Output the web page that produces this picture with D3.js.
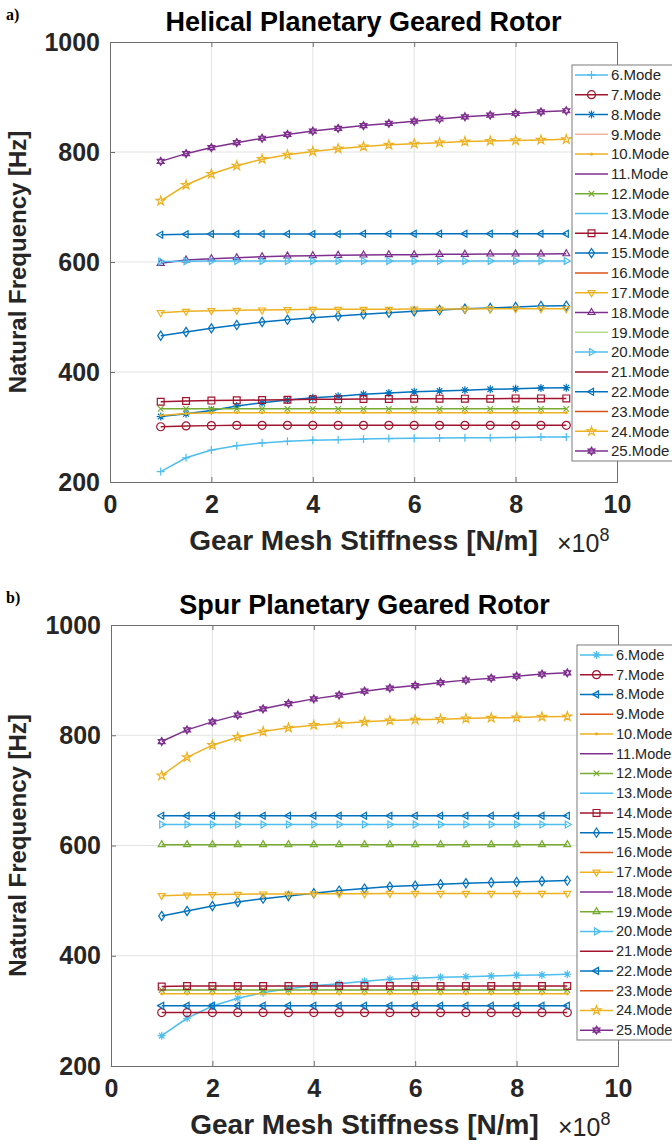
<!DOCTYPE html>
<html lang='en'>
  <head>
    <meta charset='utf-8'>
    <title>Planetary Geared Rotor Natural Frequencies</title>
    <script src='https://d3js.org/d3.v7.min.js'></script>
    <style>
      html, body { margin: 0; padding: 0; background: #fff; }
      svg { display: block; font-family: 'Liberation Sans', Arial, sans-serif; }
    </style>
  </head>
  <body>
    <div class='vis'></div>
    <script>
      // gear mesh stiffness, x 1e8 N/m
      const stiffness = [1, 1.5, 2, 2.5, 3, 3.5, 4, 4.5, 5, 5.5, 6, 6.5, 7, 7.5, 8, 8.5, 9];
      const modeNames = ['6.Mode', '7.Mode', '8.Mode', '9.Mode', '10.Mode', '11.Mode', '12.Mode', '13.Mode',
        '14.Mode', '15.Mode', '16.Mode', '17.Mode', '18.Mode', '19.Mode', '20.Mode', '21.Mode',
        '22.Mode', '23.Mode', '24.Mode', '25.Mode'];
      const xTicks = [0, 2, 4, 6, 8, 10];
      const yTicks = [200, 400, 600, 800, 1000];

      // helical planetary geared rotor (Hz)
      const helical6 = [219, 244, 258, 266, 271, 274, 276, 277, 278, 279, 279.5, 280, 280.5, 280.5, 281, 282, 282];
      const helical7 = [300.5, 302, 302.5, 303, 303, 303, 303, 303, 303, 303, 303, 303, 303, 303, 303, 303, 303];
      const helical8 = [319, 324, 330, 338, 344, 349, 353, 356, 359.5, 362, 364, 365.5, 367, 368.5, 369.5, 371, 371.5];
      const helical10 = [321, 324.5, 326, 326, 326, 326, 326, 326, 326, 326, 326, 326, 326, 326, 326, 326, 326];
      const helical12 = [333, 333, 333, 333, 333, 333, 333, 333, 333, 333, 333, 333, 333, 333, 333, 333, 333];
      const helical14 = [346, 347.3, 348, 348.5, 349, 349.6, 350.3, 350.3, 351, 351, 351.5, 351.5, 351.5, 351.5, 352, 352, 352];
      const helical15 = [466, 472.7, 479.4, 485.5, 491, 495, 498.7, 501.8, 504.9, 507.8, 510.4, 512.7, 515.1, 516.4, 518.2, 520, 520.5];
      const helical17 = [507.8, 510.4, 511.5, 512.2, 512.7, 513.3, 514, 514, 514, 514, 514.5, 514.5, 514.5, 515, 515, 515, 515];
      const helical18 = [597.6, 603.6, 606, 607.8, 609.6, 610.9, 611.5, 612.2, 612.7, 613.3, 613.3, 614, 614, 614.5, 614.5, 614.5, 615];
      const helical20 = [601, 601.5, 602, 602, 602, 602, 602, 602, 602, 602, 602, 602, 602, 602, 602, 602, 602];
      const helical22 = [649.5, 650.5, 651, 651, 651, 651, 651, 651, 651.5, 651.5, 651.5, 651.5, 651.5, 651.5, 651.5, 651.5, 651.5];
      const helical24 = [711, 740, 760, 775, 787, 795, 801, 806, 810, 813, 815, 817, 819, 820, 821, 822, 823];
      const helical25 = [783, 797, 808, 817, 825, 832, 838, 843, 848, 852, 856, 860, 864, 867, 870, 873, 875];

      // spur planetary geared rotor (Hz)
      const spur6 = [255, 286.6, 308.9, 322.9, 333.1, 340.3, 345.7, 349.4, 353.7, 357.3, 359.2, 361, 362.1, 363.4, 364.6, 365.2, 366.4];
      const spur7 = [297, 297, 297, 297, 297, 297, 297, 297, 297, 297, 297, 297, 297, 297, 297, 297, 297];
      const spur8 = [654, 654, 654, 654, 654, 654, 654, 654, 654, 654, 654, 654, 654, 654, 654, 654, 654];
      const spur10 = [331, 331, 331, 331, 331, 331, 331, 331, 331, 331, 331, 331, 331, 331, 331, 331, 331];
      const spur12 = [338, 338, 338, 338, 338, 338, 338, 338, 338, 338, 338, 338, 338, 338, 338, 338, 338];
      const spur14 = [344, 345, 345, 345, 345, 345, 345, 345, 345, 345, 345, 345, 345, 345, 345, 345, 345];
      const spur15 = [472.2, 481.3, 490.3, 497.6, 503.6, 508.5, 513.4, 518.2, 521.8, 525.4, 527.3, 529.8, 531.6, 532.8, 534, 535.2, 536.3];
      const spur17 = [509, 510, 511, 511.5, 512, 512, 512.5, 512.5, 512.5, 513, 513, 513, 513, 513, 513, 513, 513];
      const spur19 = [601.5, 601.5, 601.5, 601.5, 601.5, 601.5, 601.5, 601.5, 601.5, 601.5, 601.5, 601.5, 601.5, 601.5, 601.5, 601.5, 601.5];
      const spur20 = [638, 638, 638, 638, 638, 638, 638, 638, 638, 638, 638, 638, 638, 638, 638, 638, 638];
      const spur22 = [309.5, 309.5, 309.5, 309.5, 309.5, 309.5, 309.5, 309.5, 309.5, 309.5, 309.5, 309.5, 309.5, 309.5, 309.5, 309.5, 309.5];
      const spur24 = [727, 760, 782, 796.5, 806.7, 813.4, 818.3, 821.2, 824.3, 826.7, 828, 829.2, 830.3, 831.6, 832.1, 833.4, 834];
      const spur25 = [788.6, 809.8, 824.3, 836.5, 847.9, 857.5, 866, 872.7, 880, 885.5, 890.2, 895.6, 900, 903.6, 907.2, 910.9, 913.2];

      // MATLAB-like palette
      const c = {
        blue: '#0072BD', orange: '#D95319', yellow: '#EDB120', purple: '#7E2F8E',
        green: '#77AC30', cyan: '#4DBEEE', red: '#A2142F', salmon: '#F2B49E'
      };

      // one entry per legend row: [data, color, marker]
      const helicalModes = [
        [helical6, c.cyan, 'plus'], [helical7, c.red, 'circle'], [helical8, c.blue, 'asterisk'],
        [null, c.salmon, 'none'], [helical10, c.yellow, 'point'], [null, c.purple, 'none'],
        [helical12, c.green, 'x'], [null, c.cyan, 'none'], [helical14, c.red, 'square'],
        [helical15, c.blue, 'diamond'], [null, c.orange, 'none'], [helical17, c.yellow, 'triDown'],
        [helical18, c.purple, 'triUp'], [null, '#b5d98a', 'none'], [helical20, c.cyan, 'triRight'],
        [null, c.red, 'none'], [helical22, c.blue, 'triLeft'], [null, c.orange, 'none'],
        [helical24, c.yellow, 'pentagram'], [helical25, c.purple, 'hexagram']
      ];
      const spurModes = [
        [spur6, c.cyan, 'asterisk'], [spur7, c.red, 'circle'], [spur8, c.blue, 'triLeft'],
        [null, c.orange, 'none'], [spur10, c.yellow, 'point'], [null, c.purple, 'none'],
        [spur12, c.green, 'x'], [null, c.cyan, 'none'], [spur14, c.red, 'square'],
        [spur15, c.blue, 'diamond'], [null, c.orange, 'none'], [spur17, c.yellow, 'triDown'],
        [null, c.purple, 'none'], [spur19, c.green, 'triUp'], [spur20, c.cyan, 'triRight'],
        [null, c.red, 'none'], [spur22, c.blue, 'triLeft'], [null, c.orange, 'none'],
        [spur24, c.yellow, 'pentagram'], [spur25, c.purple, 'hexagram']
      ];

      const W = 672, H = 1144;
      const ink = '#262626';

      const svg = d3.select('.vis').append('svg')
        .attr('width', W)
        .attr('height', H);

      // marker path around 0,0
      function markerPath(type, r) {
        const tri = (angle) => {
          const pts = [0, 1, 2].map((k) => {
            const a = angle + k * 2 * Math.PI / 3;
            return [r * Math.cos(a), r * Math.sin(a)];
          });
          return 'M' + pts.map((p) => p.join(',')).join('L') + 'Z';
        };
        switch (type) {
          case 'plus': return `M${-r},0L${r},0M0,${-r}L0,${r}`;
          case 'x': return `M${-r*0.7},${-r*0.7}L${r*0.7},${r*0.7}M${-r*0.7},${r*0.7}L${r*0.7},${-r*0.7}`;
          case 'asterisk': return `M${-r},0L${r},0M0,${-r}L0,${r}M${-r*0.7},${-r*0.7}L${r*0.7},${r*0.7}M${-r*0.7},${r*0.7}L${r*0.7},${-r*0.7}`;
          case 'circle': return d3.symbol(d3.symbolCircle, Math.PI * r * r)();
          case 'point': return d3.symbol(d3.symbolCircle, Math.PI)();
          case 'square': { const s = r * 0.85; return `M${-s},${-s}H${s}V${s}H${-s}Z`; }
          case 'diamond': return `M0,${-r*1.15}L${r*0.75},0L0,${r*1.15}L${-r*0.75},0Z`;
          case 'triUp': return tri(-Math.PI / 2);
          case 'triDown': return tri(Math.PI / 2);
          case 'triLeft': return tri(Math.PI);
          case 'triRight': return tri(0);
          case 'pentagram': return d3.symbol(d3.symbolStar, r * r * 1.6)();
          case 'hexagram': return tri(-Math.PI / 2) + tri(Math.PI / 2);
          default: return '';
        }
      }

      function drawPanel(p) {
        const x = d3.scaleLinear().domain([0, 10]).range([p.left, p.right]);
        const y = d3.scaleLinear().domain([200, 1000]).range([p.bottom, p.top]);
        const g = svg.append('g');

        // grid
        g.append('g').selectAll('line.gx')
          .data(xTicks.slice(1, -1)).enter().append('line')
            .attr('x1', (d) => x(d)).attr('x2', (d) => x(d))
            .attr('y1', p.top).attr('y2', p.bottom)
            .attr('stroke', '#e3e3e3').attr('stroke-width', 1);
        g.append('g').selectAll('line.gy')
          .data(yTicks.slice(1, -1)).enter().append('line')
            .attr('x1', p.left).attr('x2', p.right)
            .attr('y1', (d) => y(d)).attr('y2', (d) => y(d))
            .attr('stroke', '#e3e3e3').attr('stroke-width', 1);

        // axes (ticks inside)
        const xAxis = d3.axisBottom(x).tickValues(xTicks).tickSize(-5).tickPadding(13);
        const yAxis = d3.axisLeft(y).tickValues(yTicks).tickSize(-5).tickPadding(10)
          .tickFormat(d3.format('d'));
        const xa = g.append('g').attr('transform', `translate(0,${p.bottom})`).call(xAxis);
        const ya = g.append('g').attr('transform', `translate(${p.left},0)`).call(yAxis);
        g.append('g').attr('transform', `translate(0,${p.top})`)
          .call(d3.axisTop(x).tickValues(xTicks).tickSize(-5).tickFormat(''));
        g.append('g').attr('transform', `translate(${p.right},0)`)
          .call(d3.axisRight(y).tickValues(yTicks).tickSize(-5).tickFormat(''));
        g.selectAll('.domain, .tick line').attr('stroke', '#6e6e6e');
        [xa, ya].forEach((a) => a.selectAll('.tick text')
          .attr('fill', ink).style('font-size', '25px').style('font-weight', 'bold'));
        xa.selectAll('.tick text').attr('dy', '0.71em');

        // series
        const line = d3.line().x((d) => x(d[0])).y((d) => y(d[1]));
        p.modes.forEach(([vals, color, marker]) => {
          if (!vals) return;
          const pts = stiffness.map((s, i) => [s, vals[i]]);
          g.append('path').datum(pts)
            .attr('d', line)
            .attr('fill', 'none')
            .attr('stroke', color)
            .attr('stroke-width', 1.5);
          if (marker !== 'none') {
            g.append('g').selectAll('path')
              .data(pts).enter().append('path')
                .attr('transform', (d) => `translate(${x(d[0])},${y(d[1])})`)
                .attr('d', markerPath(marker, 4))
                .attr('fill', marker === 'point' ? color : 'none')
                .attr('stroke', color)
                .attr('stroke-width', 1.2);
          }
        });

        // titles and labels
        svg.append('text')
          .attr('x', 6).attr('y', p.top - 22)
          .style('font-family', "'Liberation Serif', 'Times New Roman', serif")
          .style('font-weight', 'bold').style('font-size', '16px')
          .text(p.tag);
        svg.append('text')
          .attr('x', (p.left + p.right) / 2).attr('y', p.top - 11)
          .attr('text-anchor', 'middle')
          .attr('fill', 'black')
          .style('font-weight', 'bold').style('font-size', '27px')
          .text(p.title);
        svg.append('text')
          .attr('transform', `translate(26,${(p.top + p.bottom) / 2}) rotate(-90)`)
          .attr('text-anchor', 'middle')
          .attr('fill', ink)
          .style('font-weight', 'bold').style('font-size', '24px')
          .text('Natural Frequency [Hz]');
        svg.append('text')
          .attr('x', (p.left + p.right) / 2).attr('y', p.bottom + 68)
          .attr('text-anchor', 'middle')
          .attr('fill', ink)
          .style('font-weight', 'bold').style('font-size', '28px')
          .text('Gear Mesh Stiffness [N/m]');
        const exp = svg.append('text')
          .attr('x', p.right - 60).attr('y', p.bottom + 70)
          .attr('fill', ink)
          .style('font-size', '25px');
        exp.append('tspan').text('\u00d710');
        exp.append('tspan').attr('dy', -11).style('font-size', '18px').text('8');

        // legend
        const lg = svg.append('g').attr('transform', `translate(${p.legX},${p.legY})`);
        const rowH = p.legH / modeNames.length;
        lg.append('rect')
          .attr('width', 120).attr('height', p.legH)
          .attr('fill', 'white').attr('stroke', '#7a7a7a').attr('stroke-width', 1);
        p.modes.forEach(([vals, color, marker], i) => {
          const cy = rowH * (i + 0.5);
          lg.append('line')
            .attr('x1', 3).attr('x2', 36).attr('y1', cy).attr('y2', cy)
            .attr('stroke', color).attr('stroke-width', 1.5);
          if (marker !== 'none') {
            lg.append('path')
              .attr('transform', `translate(19.5,${cy})`)
              .attr('d', markerPath(marker, 4))
              .attr('fill', marker === 'point' ? color : 'none')
              .attr('stroke', color).attr('stroke-width', 1.2);
          }
          lg.append('text')
            .attr('x', 39).attr('y', cy).attr('dy', '0.35em')
            .attr('fill', ink)
            .style('font-size', p.legFont)
            .text(modeNames[i]);
        });
      }

      drawPanel({
        tag: 'a)', title: 'Helical Planetary Geared Rotor', modes: helicalModes,
        left: 110, right: 617, top: 42, bottom: 482,
        legX: 572, legY: 65, legH: 396, legFont: '15px'
      });
      drawPanel({
        tag: 'b)', title: 'Spur Planetary Geared Rotor', modes: spurModes,
        left: 111, right: 618, top: 625, bottom: 1066,
        legX: 577, legY: 645, legH: 395, legFont: '14.5px'
      });
    </script>
  </body>
</html>
